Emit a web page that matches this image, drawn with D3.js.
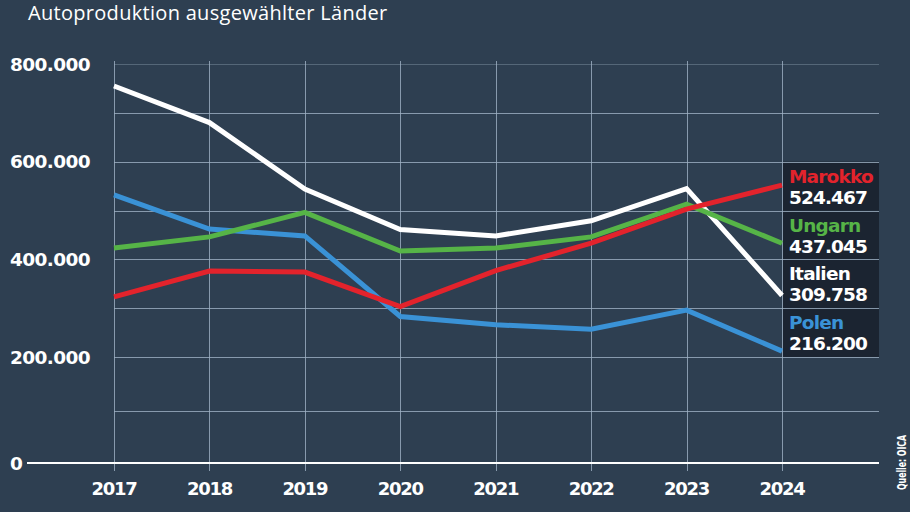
<!DOCTYPE html>
<html>
<head>
<meta charset="utf-8">
<script src="https://cdn.jsdelivr.net/npm/d3@7"></script>
<style>
	body{margin:0;background:#2e3f51;}
	svg{display:block;}
	.grid{stroke:#9fb2c4;stroke-width:1;stroke-opacity:0.8;}
	.tick-label{fill:#fff;font-family:"DejaVu Sans",sans-serif;font-weight:bold;}
</style>
</head>
<body>
<script>

// data
var years=[2017,2018,2019,2020,2021,2022,2023,2024];
var italien=[755000,680000,544000,461000,448000,479000,545000,326000];
var polen=[532000,462000,448000,283000,266000,257000,296000,212000];
var ungarn=[423000,446000,496000,417000,423000,446000,513000,433000];
var marokko=[323000,376000,374000,303000,377000,433000,503000,552000];

var seriesNames=["Marokko","Ungarn","Italien","Polen"];
var seriesLabels=["524.467","437.045","309.758","216.200"];
var seriesColors=["#e3232c","#56b447","#ffffff","#3a92d6"];
var seriesValues=[marokko,ungarn,italien,polen];

var yTicks=[0,200000,400000,600000,800000];
var yGrid=[100000,200000,300000,400000,500000,600000,700000,800000];

var width=910,height=512;

var svg=d3.select("body").append("svg")
	.attr("width",width)
	.attr("height",height);

svg.append("rect").attr("width",width).attr("height",height).attr("fill","#2e3f51");

var x=d3.scaleLinear().domain([2017,2024]).range([114,782]);
// the picture's lower grid rows are a bit taller, so piecewise
var y=d3.scaleLinear().domain([0,100000,200000,800000]).range([463,411,357,64]);

var gridRight=879;

// title
svg.append("text")
	.attr("x",28).attr("y",20)
	.attr("fill","#fff")
	.style("font-family","'Open Sans',sans-serif")
	.style("font-size","20px")
	.style("letter-spacing","0.3px")
	.text("Autoproduktion ausgewählter Länder");

// legend boxes (behind the grid)
var boxTop=y(600000),boxH=(y(200000)-y(600000))/4;
var legend=svg.append("g").selectAll("g")
	.data(seriesNames)
	.enter().append("g")
	.attr("transform",function(d,i){return "translate(783,"+(boxTop+i*boxH)+")";});

legend.append("rect")
	.attr("width",gridRight-783)
	.attr("height",boxH)
	.attr("fill","#1b2431");

// grid
svg.append("g").selectAll("line")
	.data(yGrid)
	.enter().append("line")
	.attr("class","grid")
	.attr("x1",x(2017)).attr("x2",gridRight)
	.attr("y1",function(d){return Math.round(y(d))+0.5;})
	.attr("y2",function(d){return Math.round(y(d))+0.5;})
	.style("stroke-opacity",function(d){return d==800000?0.35:0.8;});

svg.append("g").selectAll("line")
	.data(years)
	.enter().append("line")
	.attr("class","grid")
	.attr("x1",function(d){return Math.round(x(d))+0.5;})
	.attr("x2",function(d){return Math.round(x(d))+0.5;})
	.attr("y1",61).attr("y2",471);

// baseline
svg.append("line")
	.attr("x1",27).attr("x2",gridRight)
	.attr("y1",y(0)).attr("y2",y(0))
	.attr("stroke","#fff").attr("stroke-width",2);

// y labels
svg.append("g").selectAll("text")
	.data(yTicks)
	.enter().append("text")
	.attr("class","tick-label")
	.attr("x",10)
	.attr("y",function(d){return y(d);})
	.attr("dy","0.36em")
	.style("font-size","18.5px")
	.style("letter-spacing","-0.6px")
	.text(function(d){return d==0?"0":d3.format(",")(d).replace(/,/g,".");});

// x labels
svg.append("g").selectAll("text")
	.data(years)
	.enter().append("text")
	.attr("class","tick-label")
	.attr("x",function(d){return x(d);})
	.attr("y",489)
	.attr("dy","0.36em")
	.style("text-anchor","middle")
	.style("font-size","18px")
	.style("letter-spacing","-1.3px")
	.text(function(d){return d;});

// lines
var line=d3.line()
	.x(function(d,i){return x(years[i]);})
	.y(function(d){return y(d);});

var order=[3,2,1,0]; // polen, italien, ungarn, marokko on top
svg.append("g").selectAll("path")
	.data(order)
	.enter().append("path")
	.attr("d",function(i){return line(seriesValues[i]);})
	.attr("fill","none")
	.attr("stroke",function(i){return seriesColors[i];})
	.attr("stroke-width",5)
	.attr("stroke-linejoin","miter");

// legend texts
legend.append("text")
	.attr("x",6).attr("y",21)
	.attr("fill",function(d,i){return seriesColors[i];})
	.style("font-family","'DejaVu Sans',sans-serif")
	.style("font-weight","bold")
	.style("font-size","18.5px")
	.style("letter-spacing","-0.8px")
	.text(function(d){return d;});

legend.append("text")
	.attr("x",6).attr("y",42)
	.attr("fill","#fff")
	.style("font-family","'DejaVu Sans',sans-serif")
	.style("font-weight","bold")
	.style("font-size","18.5px")
	.style("letter-spacing","-0.9px")
	.text(function(d,i){return seriesLabels[i];});

// source
svg.append("text")
	.attr("transform","translate(906,490) rotate(-90)")
	.attr("fill","#fff")
	.attr("textLength",55)
	.attr("lengthAdjust","spacingAndGlyphs")
	.style("font-family","'Liberation Sans Narrow','DejaVu Sans Condensed',sans-serif")
	.style("font-weight","bold")
	.style("font-size","12px")
	.text("Quelle: OICA");

</script>
</body>
</html>
